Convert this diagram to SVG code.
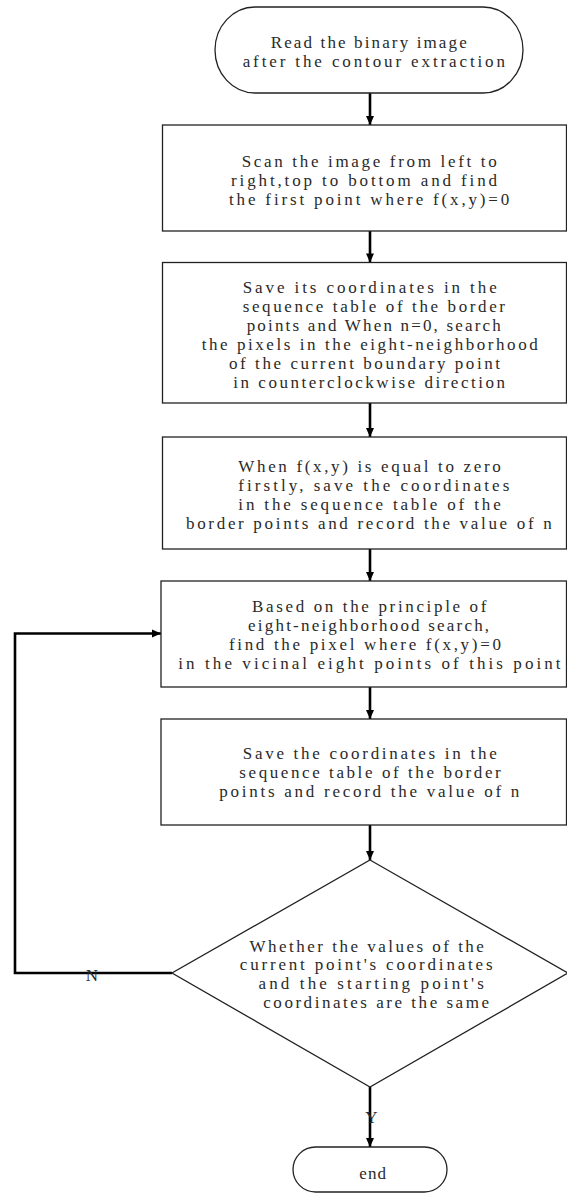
<svg xmlns="http://www.w3.org/2000/svg" width="567" height="1195" viewBox="0 0 567 1195">
<defs>
<style>
.box{fill:#fff;stroke:#222;stroke-width:1.3}
.t{font-family:"Liberation Serif","DejaVu Serif",serif;font-size:17px;fill:#2a2a2a}
.m{font-family:"Liberation Serif","DejaVu Serif",serif;font-size:17px;fill:#2a2a2a;text-anchor:middle}
.c{fill:none;stroke:#000;stroke-width:2.6}
</style>
<marker id="ah" markerUnits="userSpaceOnUse" markerWidth="12" markerHeight="12" viewBox="0 0 12 12" refX="10" refY="6" orient="auto">
<path d="M1,2 L10,6 L1,10 Z" fill="#000"/>
</marker>
</defs>
<rect width="567" height="1195" fill="#fff"/>
<g id="connectors">
<line class="c" x1="370" y1="93" x2="370" y2="125" marker-end="url(#ah)"/>
<line class="c" x1="370" y1="231" x2="370" y2="262.5" marker-end="url(#ah)"/>
<line class="c" x1="370" y1="403" x2="370" y2="437" marker-end="url(#ah)"/>
<line class="c" x1="370" y1="549" x2="370" y2="581" marker-end="url(#ah)"/>
<line class="c" x1="370" y1="687" x2="370" y2="719" marker-end="url(#ah)"/>
<line class="c" x1="370" y1="825" x2="370" y2="860" marker-end="url(#ah)"/>
<line class="c" x1="370" y1="1087" x2="370" y2="1147" marker-end="url(#ah)"/>
<polyline class="c" points="172,973 15,973 15,633.5 161,633.5" marker-end="url(#ah)"/>
<text class="m" x="92" y="981">N</text>
<text class="m" x="371.5" y="1123">Y</text>
</g>
<g id="start">
<rect class="box" x="215" y="7" width="308" height="86" rx="40" ry="43"/>
<text class="t" x="270.7" y="48" textLength="196" lengthAdjust="spacing">Read the binary image</text>
<text class="t" x="242.7" y="67" textLength="262.3" lengthAdjust="spacing">after the contour extraction</text>
</g>
<g id="scan">
<rect class="box" x="162.5" y="125" width="404" height="106"/>
<text class="t" x="241.7" y="167" textLength="255" lengthAdjust="spacing">Scan the image from left to</text>
<text class="t" x="231" y="186" textLength="266" lengthAdjust="spacing">right,top to bottom and find</text>
<text class="t" x="229" y="205" textLength="280.3" lengthAdjust="spacing">the first point where f(x,y)=0</text>
</g>
<g id="save1">
<rect class="box" x="162.5" y="262.5" width="404" height="140.5"/>
<text class="t" x="242.7" y="292.5" textLength="254" lengthAdjust="spacing">Save its coordinates in the</text>
<text class="t" x="242.7" y="311.5" textLength="262.3" lengthAdjust="spacing">sequence table of the border</text>
<text class="t" x="246.7" y="330.5" textLength="254" lengthAdjust="spacing">points and When n=0, search</text>
<text class="t" x="201.7" y="349.5" textLength="336" lengthAdjust="spacing">the pixels in the eight-neighborhood</text>
<text class="t" x="229" y="368.5" textLength="271" lengthAdjust="spacing">of the current boundary point</text>
<text class="t" x="233.3" y="387.5" textLength="271.7" lengthAdjust="spacing">in counterclockwise direction</text>
</g>
<g id="when">
<rect class="box" x="162.5" y="437" width="404" height="112"/>
<text class="t" x="238.3" y="471.5" textLength="262.4" lengthAdjust="spacing">When f(x,y) is equal to zero</text>
<text class="t" x="238.3" y="490.5" textLength="271" lengthAdjust="spacing">firstly, save the coordinates</text>
<text class="t" x="238.3" y="509.5" textLength="262.4" lengthAdjust="spacing">in the sequence table of the</text>
<text class="t" x="186" y="528.5" textLength="365.7" lengthAdjust="spacing">border points and record the value of n</text>
</g>
<g id="search">
<rect class="box" x="161" y="581" width="405.5" height="106"/>
<text class="t" x="252" y="612" textLength="234.4" lengthAdjust="spacing">Based on the principle of</text>
<text class="t" x="248.1" y="631" textLength="241" lengthAdjust="spacing">eight-neighborhood search,</text>
<text class="t" x="228.9" y="650" textLength="272" lengthAdjust="spacing">find the pixel where f(x,y)=0</text>
<text class="t" x="178.3" y="668.5" textLength="382.3" lengthAdjust="spacing">in the vicinal eight points of this point</text>
</g>
<g id="save2">
<rect class="box" x="161" y="719" width="405.5" height="106"/>
<text class="t" x="242.7" y="759" textLength="254" lengthAdjust="spacing">Save the coordinates in the</text>
<text class="t" x="239.3" y="778" textLength="261.4" lengthAdjust="spacing">sequence table of the border</text>
<text class="t" x="219.3" y="797" textLength="300" lengthAdjust="spacing">points and record the value of n</text>
</g>
<g id="decision">
<polygon class="box" points="370,860 568,973 370,1087 172,973"/>
<text class="t" x="249.5" y="951.5" textLength="234.4" lengthAdjust="spacing">Whether the values of the</text>
<text class="t" x="239.8" y="970" textLength="252.8" lengthAdjust="spacing">current point's coordinates</text>
<text class="t" x="258.6" y="989" textLength="225.3" lengthAdjust="spacing">and the starting point's</text>
<text class="t" x="263.3" y="1008" textLength="225.7" lengthAdjust="spacing">coordinates are the same</text>
</g>
<g id="end">
<rect class="box" x="293" y="1147" width="154" height="45" rx="22.5" ry="22.5"/>
<text class="t" x="359.3" y="1179" textLength="26.7" lengthAdjust="spacing">end</text>
</g>
</svg>
